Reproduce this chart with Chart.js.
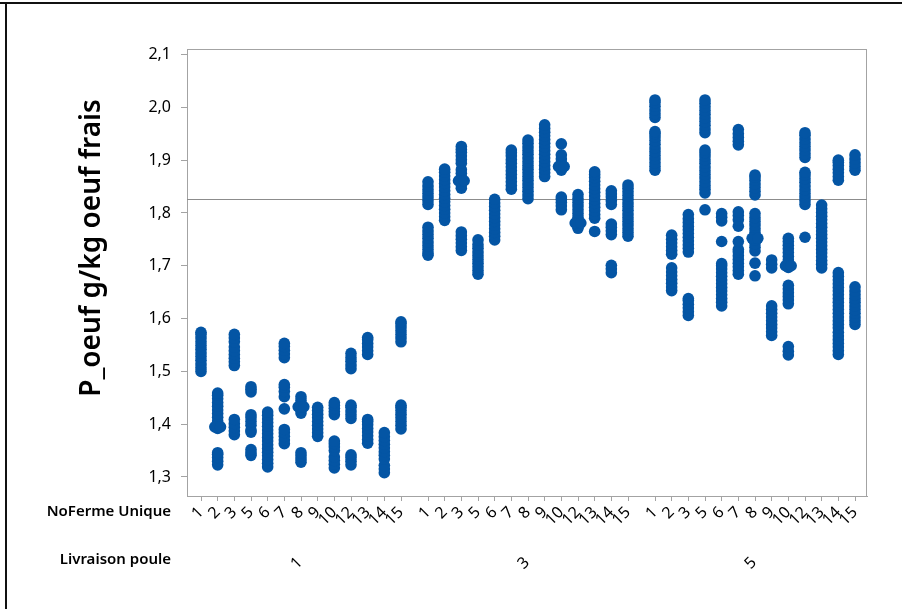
<!DOCTYPE html>
<html>
<head>
<meta charset="utf-8">
<script src="https://cdn.jsdelivr.net/npm/chart.js@4/dist/chart.umd.min.js"></script>
<style>
  html, body { margin: 0; padding: 0; background: #ffffff; }
  #graphique { display: block; }
</style>
</head>
<body>
<canvas id="graphique" width="902" height="609"></canvas>
<script>
// Fermes (NoFerme Unique) and deliveries (Livraison poule)
const fermes = [1, 2, 3, 5, 6, 7, 8, 9, 10, 12, 13, 14, 15];
const livraisons = [1, 3, 5];

// P_oeuf (g/kg oeuf frais), one list per ferme, livraison 1
const poidsL1 = [
  [1.500, 1.507, 1.514, 1.521, 1.528, 1.535, 1.542, 1.549, 1.556, 1.563, 1.570, 1.574],
  [1.323, 1.330, 1.337, 1.343, 1.346, 1.392, 1.395, 1.399, 1.406, 1.413, 1.420, 1.427, 1.434, 1.441, 1.448, 1.455, 1.459],
  [1.380, 1.387, 1.394, 1.401, 1.409, 1.511, 1.518, 1.525, 1.532, 1.539, 1.546, 1.556, 1.563, 1.570],
  [1.341, 1.346, 1.352, 1.385, 1.389, 1.398, 1.405, 1.412, 1.418, 1.461, 1.466, 1.471],
  [1.319, 1.326, 1.333, 1.340, 1.347, 1.354, 1.361, 1.368, 1.375, 1.382, 1.389, 1.396, 1.403, 1.410, 1.417, 1.423],
  [1.363, 1.370, 1.377, 1.384, 1.390, 1.429, 1.452, 1.462, 1.470, 1.475, 1.526, 1.533, 1.540, 1.547, 1.553],
  [1.328, 1.334, 1.340, 1.346, 1.421, 1.428, 1.433, 1.438, 1.445, 1.452],
  [1.377, 1.384, 1.391, 1.398, 1.405, 1.412, 1.419, 1.426, 1.432],
  [1.317, 1.324, 1.331, 1.338, 1.350, 1.357, 1.363, 1.368, 1.418, 1.424, 1.430, 1.436, 1.441],
  [1.323, 1.330, 1.337, 1.342, 1.411, 1.418, 1.425, 1.432, 1.436, 1.505, 1.512, 1.519, 1.526, 1.534],
  [1.364, 1.371, 1.378, 1.385, 1.392, 1.399, 1.405, 1.409, 1.532, 1.539, 1.546, 1.553, 1.560, 1.564],
  [1.308, 1.315, 1.322, 1.334, 1.341, 1.348, 1.355, 1.362, 1.369, 1.376, 1.384],
  [1.391, 1.398, 1.405, 1.412, 1.419, 1.426, 1.432, 1.436, 1.556, 1.563, 1.570, 1.577, 1.584, 1.590, 1.594]
];

// livraison 3
const poidsL3 = [
  [1.720, 1.724, 1.731, 1.738, 1.745, 1.752, 1.759, 1.766, 1.773, 1.816, 1.823, 1.830, 1.837, 1.844, 1.851, 1.859],
  [1.786, 1.793, 1.800, 1.807, 1.814, 1.821, 1.828, 1.835, 1.842, 1.849, 1.856, 1.863, 1.870, 1.877, 1.883],
  [1.729, 1.736, 1.743, 1.750, 1.757, 1.764, 1.847, 1.854, 1.861, 1.868, 1.875, 1.882, 1.894, 1.901, 1.908, 1.915, 1.920, 1.926],
  [1.684, 1.691, 1.698, 1.705, 1.712, 1.719, 1.726, 1.733, 1.740, 1.749],
  [1.749, 1.756, 1.763, 1.770, 1.777, 1.784, 1.791, 1.798, 1.805, 1.812, 1.819, 1.826],
  [1.845, 1.852, 1.859, 1.866, 1.873, 1.880, 1.887, 1.894, 1.901, 1.908, 1.914, 1.919],
  [1.827, 1.834, 1.841, 1.848, 1.855, 1.862, 1.869, 1.876, 1.883, 1.890, 1.897, 1.904, 1.911, 1.918, 1.925, 1.932, 1.938],
  [1.869, 1.876, 1.883, 1.890, 1.897, 1.904, 1.911, 1.918, 1.925, 1.932, 1.939, 1.946, 1.953, 1.960, 1.967],
  [1.806, 1.813, 1.820, 1.826, 1.830, 1.881, 1.888, 1.895, 1.902, 1.910, 1.931],
  [1.771, 1.778, 1.781, 1.785, 1.792, 1.799, 1.806, 1.813, 1.820, 1.827, 1.835],
  [1.765, 1.790, 1.797, 1.804, 1.811, 1.818, 1.825, 1.832, 1.839, 1.846, 1.853, 1.860, 1.867, 1.873, 1.878],
  [1.687, 1.694, 1.701, 1.759, 1.766, 1.773, 1.779, 1.816, 1.823, 1.830, 1.836, 1.842],
  [1.756, 1.763, 1.770, 1.777, 1.784, 1.791, 1.798, 1.805, 1.812, 1.819, 1.826, 1.833, 1.840, 1.847, 1.853]
];

// livraison 5
const poidsL5 = [
  [1.881, 1.888, 1.895, 1.902, 1.909, 1.916, 1.923, 1.930, 1.937, 1.944, 1.950, 1.954, 1.981, 1.988, 1.995, 2.002, 2.009, 2.014],
  [1.653, 1.660, 1.667, 1.674, 1.681, 1.688, 1.696, 1.722, 1.729, 1.736, 1.743, 1.750, 1.758],
  [1.606, 1.613, 1.620, 1.627, 1.634, 1.638, 1.726, 1.733, 1.740, 1.747, 1.754, 1.761, 1.768, 1.775, 1.782, 1.789, 1.797],
  [1.806, 1.838, 1.845, 1.852, 1.859, 1.866, 1.873, 1.880, 1.887, 1.894, 1.901, 1.908, 1.914, 1.919, 1.952, 1.959, 1.966, 1.973, 1.980, 1.987, 1.994, 2.001, 2.008, 2.014],
  [1.624, 1.631, 1.638, 1.645, 1.652, 1.659, 1.666, 1.673, 1.680, 1.687, 1.694, 1.700, 1.704, 1.746, 1.785, 1.792, 1.799],
  [1.684, 1.691, 1.698, 1.705, 1.712, 1.719, 1.726, 1.731, 1.746, 1.775, 1.787, 1.795, 1.802, 1.929, 1.936, 1.943, 1.950, 1.958],
  [1.681, 1.705, 1.728, 1.735, 1.742, 1.749, 1.752, 1.756, 1.763, 1.770, 1.777, 1.784, 1.791, 1.799, 1.834, 1.841, 1.848, 1.855, 1.862, 1.868, 1.872],
  [1.568, 1.575, 1.582, 1.589, 1.596, 1.603, 1.610, 1.617, 1.624, 1.696, 1.703, 1.711],
  [1.531, 1.538, 1.547, 1.628, 1.635, 1.642, 1.649, 1.656, 1.663, 1.697, 1.700, 1.704, 1.711, 1.718, 1.725, 1.732, 1.739, 1.746, 1.752],
  [1.754, 1.816, 1.823, 1.830, 1.837, 1.844, 1.851, 1.858, 1.865, 1.872, 1.877, 1.905, 1.912, 1.919, 1.926, 1.933, 1.940, 1.947, 1.952],
  [1.696, 1.703, 1.710, 1.717, 1.724, 1.731, 1.738, 1.745, 1.752, 1.759, 1.766, 1.773, 1.780, 1.787, 1.794, 1.801, 1.808, 1.815],
  [1.532, 1.539, 1.546, 1.553, 1.560, 1.567, 1.574, 1.582, 1.589, 1.596, 1.603, 1.610, 1.617, 1.624, 1.631, 1.638, 1.645, 1.652, 1.659, 1.666, 1.673, 1.680, 1.687, 1.862, 1.869, 1.876, 1.883, 1.890, 1.896, 1.900],
  [1.589, 1.596, 1.603, 1.610, 1.617, 1.624, 1.631, 1.638, 1.645, 1.652, 1.660, 1.881, 1.888, 1.895, 1.902, 1.910]
];

// Tied values drawn side by side: [livraison index, ferme index, valeur]
const doublons = [
  [0, 1, 1.395], [0, 6, 1.433],
  [1, 2, 1.861], [1, 8, 1.888], [1, 9, 1.781],
  [2, 6, 1.752], [2, 8, 1.700]
];

// Overall mean reference line and y-axis graduations
const moyenne = 1.827;
const graduationsY = [1.3, 1.4, 1.5, 1.6, 1.7, 1.8, 1.9, 2.0, 2.1];

const poidsParLivraison = [poidsL1, poidsL3, poidsL5];
const pasGroupe = 13.62;        // slot units from one livraison block to the next
const decalageDoublon = 0.17;   // sideways shift for tied values
const bleu = '#0455a4';
const police = '"Noto Sans", "Open Sans", sans-serif';

const positionX = (g, i) => g * pasGroupe + i;

const points = [];
poidsParLivraison.forEach((parFerme, g) => {
  parFerme.forEach((valeurs, i) => {
    valeurs.forEach(v => points.push({ x: positionX(g, i), y: v }));
  });
});
doublons.forEach(([g, i, v]) => {
  points.push({ x: positionX(g, i) - decalageDoublon, y: v });
  points.push({ x: positionX(g, i) + decalageDoublon, y: v });
});

const positionsTicks = [];
livraisons.forEach((_, g) => fermes.forEach((_, i) => positionsTicks.push(positionX(g, i))));

const decor = {
  id: 'decor',
  beforeDatasetsDraw(chart) {
    const { ctx, chartArea: a, scales } = chart;
    ctx.save();
    // plot frame
    ctx.strokeStyle = '#a3a3a3';
    ctx.lineWidth = 1;
    ctx.strokeRect(Math.round(a.left) + 0.5, Math.round(a.top) + 0.5,
                   Math.round(a.right - a.left) - 1, Math.round(a.bottom - a.top));
    // mean reference line
    const ym = Math.round(scales.y.getPixelForValue(moyenne)) + 0.5;
    ctx.strokeStyle = '#8c8c8c';
    ctx.beginPath();
    ctx.moveTo(a.left, ym);
    ctx.lineTo(a.right, ym);
    ctx.stroke();
    ctx.restore();
  },
  afterDraw(chart) {
    const { ctx, scales } = chart;
    ctx.save();
    // window border lines
    ctx.fillStyle = '#111111';
    ctx.fillRect(0, 2, chart.width, 2);
    ctx.fillRect(5, 2, 2, chart.height - 2);

    ctx.fillStyle = '#000000';
    // y-axis title
    ctx.save();
    ctx.translate(92, 248);
    ctx.rotate(-Math.PI / 2);
    ctx.font = '600 28px ' + police;
    ctx.textAlign = 'center';
    ctx.textBaseline = 'middle';
    ctx.fillText('P_oeuf g/kg oeuf frais', 0, 0);
    ctx.restore();

    // row titles of the x axis
    ctx.font = '600 15px ' + police;
    ctx.textAlign = 'right';
    ctx.textBaseline = 'middle';
    ctx.fillText('NoFerme Unique', 171, 512);
    ctx.fillText('Livraison poule', 171, 560);

    // livraison labels, centred under each block of fermes
    ctx.font = '16px ' + police;
    livraisons.forEach((l, g) => {
      const xc = scales.x.getPixelForValue(positionX(g, (fermes.length - 1) / 2));
      ctx.save();
      ctx.translate(xc - 1, 560);
      ctx.rotate(-Math.PI / 4);
      ctx.textAlign = 'right';
      ctx.textBaseline = 'middle';
      ctx.fillText(String(l), 0, 0);
      ctx.restore();
    });
    ctx.restore();
  }
};

new Chart(document.getElementById('graphique'), {
  type: 'scatter',
  data: {
    datasets: [{
      data: points,
      backgroundColor: bleu,
      borderColor: bleu,
      borderWidth: 0,
      pointRadius: 5.8,
      pointHoverRadius: 5.8
    }]
  },
  options: {
    responsive: false,
    animation: false,
    devicePixelRatio: 1,
    layout: { padding: { left: 0, top: 49, right: 35, bottom: 0 } },
    plugins: { legend: { display: false }, tooltip: { enabled: false } },
    scales: {
      x: {
        type: 'linear',
        min: -0.84,
        max: 2 * pasGroupe + fermes.length - 1 + 0.72,
        afterBuildTicks: (scale) => { scale.ticks = positionsTicks.map(v => ({ value: v })); },
        afterFit: (scale) => { scale.height = 113; },
        grid: { drawOnChartArea: false, drawTicks: true, tickLength: 5, color: '#a3a3a3' },
        border: { display: true, color: '#a3a3a3' },
        ticks: {
          autoSkip: false,
          minRotation: 45,
          maxRotation: 45,
          padding: 2,
          color: '#000000',
          font: { family: police, size: 16 },
          callback: (v, idx) => String(fermes[idx % fermes.length])
        }
      },
      y: {
        type: 'linear',
        min: 1.264,
        max: 2.1105,
        afterBuildTicks: (scale) => { scale.ticks = graduationsY.map(v => ({ value: v })); },
        afterFit: (scale) => { scale.width = 187; },
        grid: { drawOnChartArea: false, drawTicks: true, tickLength: 6, color: '#a3a3a3' },
        border: { display: true, color: '#a3a3a3' },
        ticks: {
          padding: 10,
          color: '#000000',
          font: { family: police, size: 16 },
          callback: (v) => Number(v).toFixed(1).replace('.', ',')
        }
      }
    }
  },
  plugins: [decor]
});
</script>
</body>
</html>
